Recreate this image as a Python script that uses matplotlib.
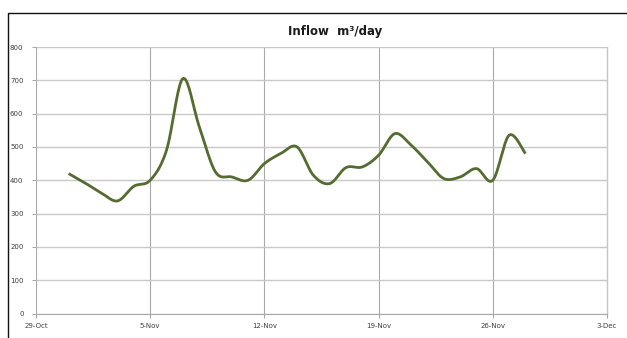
# Inflow chart: daily inflow (m3/day), smoothed line as in a spreadsheet chart

import numpy as np
import pandas as pd
import matplotlib
matplotlib.use("Agg")
import matplotlib.pyplot as plt
import matplotlib.dates as mdates
from matplotlib.patches import Rectangle

# Daily inflow values, 31-Oct .. 28-Nov
dates = pd.date_range("2012-10-31", "2012-11-28", freq="D")
inflow = [420, 392, 362, 338, 382, 400, 490, 705, 562, 425,
          410, 400, 450, 480, 500, 415, 390, 438, 440, 475,
          540, 505, 455, 405, 410, 435, 400, 535, 480]

tick_dates = pd.to_datetime(["2012-10-29", "2012-11-05", "2012-11-12",
                             "2012-11-19", "2012-11-26", "2012-12-03"])
tick_labels = ["29-Oct", "5-Nov", "12-Nov", "19-Nov", "26-Nov", "3-Dec"]
y_ticks = [0, 100, 200, 300, 400, 500, 600, 700, 800]


def smooth_curve(x, y, n=20):
    # Catmull-Rom style Bezier segments (spreadsheet "smoothed line")
    x = np.asarray(x, float)
    y = np.asarray(y, float)
    px = np.concatenate([[x[0]], x, [x[-1]]])
    py = np.concatenate([[y[0]], y, [y[-1]]])
    xs, ys = [], []
    t = np.linspace(0, 1, n, endpoint=False)
    for i in range(1, len(px) - 2):
        p0 = np.array([px[i], py[i]])
        p3 = np.array([px[i + 1], py[i + 1]])
        p1 = p0 + (np.array([px[i + 1], py[i + 1]]) - np.array([px[i - 1], py[i - 1]])) / 6
        p2 = p3 - (np.array([px[i + 2], py[i + 2]]) - np.array([px[i], py[i]])) / 6
        b = ((1 - t) ** 3)[:, None] * p0 + (3 * (1 - t) ** 2 * t)[:, None] * p1 \
            + (3 * (1 - t) * t ** 2)[:, None] * p2 + (t ** 3)[:, None] * p3
        xs.extend(b[:, 0])
        ys.extend(b[:, 1])
    xs.append(x[-1])
    ys.append(y[-1])
    return np.array(xs), np.array(ys)


fig = plt.figure(figsize=(6.27, 3.38), dpi=100)
ax = fig.add_axes([36 / 627, 1 - 313.5 / 338, 571 / 627, 266.5 / 338])

xn = mdates.date2num(dates)
sx, sy = smooth_curve(xn, inflow)
ax.plot(sx, sy, color="#556B2F", linewidth=2.0, solid_capstyle="butt", zorder=3)

ax.set_xlim(mdates.date2num(tick_dates[0]), mdates.date2num(tick_dates[-1]))
ax.set_ylim(0, 800)
ax.set_xticks(mdates.date2num(tick_dates))
ax.set_xticklabels(tick_labels)
ax.set_yticks(y_ticks)

ax.grid(axis="y", color="#c8c8c8", linewidth=1.0)
ax.grid(axis="x", color="#a8a8a8", linewidth=0.8)
for side in ["top", "left"]:
    ax.spines[side].set_visible(False)
ax.spines["right"].set_color("#c8c8c8")
ax.spines["right"].set_linewidth(1.0)
ax.spines["bottom"].set_color("#a8a8a8")
ax.tick_params(axis="both", colors="#a8a8a8", labelcolor="#404040",
               labelsize=5, length=3, width=0.8)
ax.tick_params(axis="y", pad=6)
ax.tick_params(axis="x", pad=4)

fig.text(0.535, 1 - 32 / 338, "Inflow  m³/day", ha="center", va="center",
         fontsize=8.5, fontweight="bold", color="#1a1a1a")

# outer chart frame (only top and left edges fall inside the image)
fig.patches.append(Rectangle((8 / 627, -0.1), 1.2, 1 - 13 / 338 + 0.1,
                             transform=fig.transFigure, fill=False,
                             edgecolor="#111111", linewidth=1.0))

fig.savefig("out.png", dpi=100)
